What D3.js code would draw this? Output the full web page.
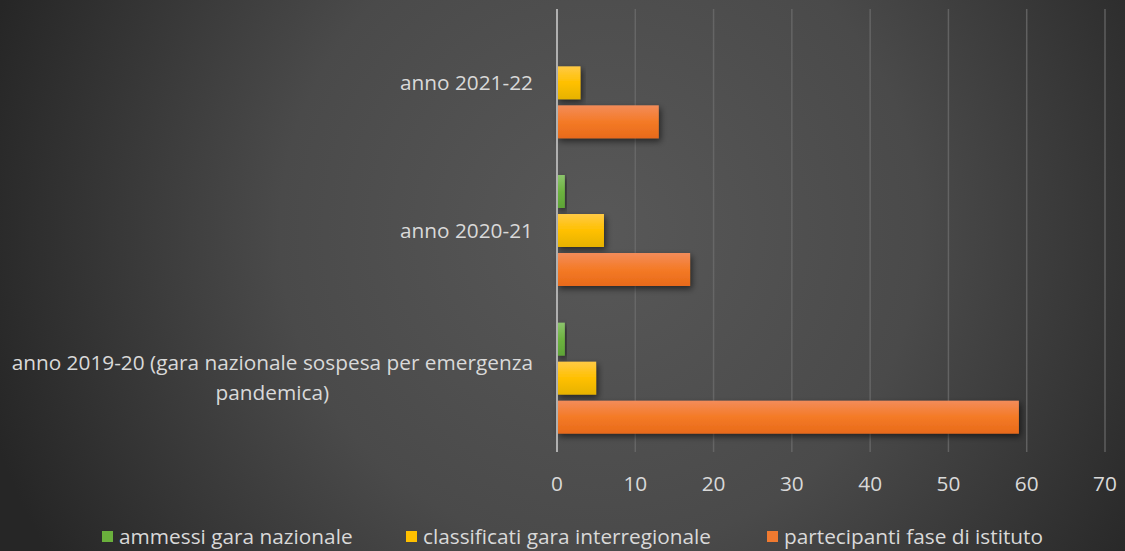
<!DOCTYPE html>
<html>
<head>
<meta charset="utf-8">
<script src="https://cdn.jsdelivr.net/npm/d3@7"></script>
<style>
  html, body { margin: 0; padding: 0; background: #2a2a2a; }
  svg { display: block; }
  text { font-family: "Open Sans", "Noto Sans", sans-serif; fill: #d9d9d9; }
</style>
</head>
<body>
<div id="chart"></div>
<script>
// categories, top to bottom
const categories = [
  "anno 2021-22",
  "anno 2020-21",
  "anno 2019-20 (gara nazionale sospesa per emergenza|pandemica)"
];
const seriesNames = ["ammessi gara nazionale", "classificati gara interregionale", "partecipanti fase di istituto"];
const ammessi = [0, 1, 1];
const classificati = [3, 6, 5];
const partecipanti = [13, 17, 59];
const xTicks = [0, 10, 20, 30, 40, 50, 60, 70];

const seriesValues = [ammessi, classificati, partecipanti];
const seriesGrad = [
  ["#8cc46c", "#6db33f", "#5ea436"],
  ["#ffca45", "#ffc000", "#e6b200"],
  ["#f38c5a", "#f47a26", "#e86a1a"]
];
const legendColor = ["#6ab03c", "#ffc000", "#f07a30"];

const width = 1125, height = 551;
const margin = { top: 9, right: 20, bottom: 99, left: 557 };
const fontSize = "20.8px";

const svg = d3.select("#chart").append("svg")
  .attr("width", width)
  .attr("height", height);

const defs = svg.append("defs");
const bg = defs.append("radialGradient")
  .attr("id", "bg")
  .attr("gradientUnits", "userSpaceOnUse")
  .attr("cx", 600).attr("cy", 230).attr("r", 640);
bg.append("stop").attr("offset", "0%").attr("stop-color", "#585858");
bg.append("stop").attr("offset", "50%").attr("stop-color", "#4a4a4a");
bg.append("stop").attr("offset", "100%").attr("stop-color", "#262626");

seriesGrad.forEach((g, i) => {
  const lg = defs.append("linearGradient")
    .attr("id", "bar" + i)
    .attr("x1", 0).attr("y1", 0).attr("x2", 0).attr("y2", 1);
  lg.append("stop").attr("offset", "0%").attr("stop-color", g[0]);
  lg.append("stop").attr("offset", "50%").attr("stop-color", g[1]);
  lg.append("stop").attr("offset", "100%").attr("stop-color", g[2]);
});

const shadow = defs.append("filter").attr("id", "shadow")
  .attr("x", "-10%").attr("y", "-30%").attr("width", "130%").attr("height", "180%");
shadow.append("feDropShadow")
  .attr("dx", 2).attr("dy", 3).attr("stdDeviation", 3)
  .attr("flood-color", "#000").attr("flood-opacity", 0.55);

svg.append("rect")
  .attr("width", width).attr("height", height)
  .attr("fill", "url(#bg)");

const x = d3.scaleLinear()
  .domain([0, 70])
  .range([margin.left, 1105]);

const y0 = d3.scaleBand()
  .domain(categories)
  .range([margin.top, height - margin.bottom])
  .padding(0);

const y1 = d3.scaleBand()
  .domain(d3.range(seriesNames.length))
  .range([0, y0.bandwidth()])
  .paddingInner(0.154)
  .paddingOuter(0.47);

// gridlines
svg.append("g")
  .selectAll("line")
  .data(xTicks.slice(1))
  .join("line")
  .attr("x1", d => x(d)).attr("x2", d => x(d))
  .attr("y1", margin.top).attr("y2", height - margin.bottom)
  .attr("stroke", "#6e6e6e")
  .attr("stroke-opacity", 0.75)
  .attr("stroke-width", 1.5);

// bars
const groups = svg.append("g")
  .selectAll("g")
  .data(categories)
  .join("g")
  .attr("transform", d => `translate(0,${y0(d)})`);

groups.selectAll("rect")
  .data((d, ci) => seriesValues.map((vals, si) => ({ si, v: vals[ci] })))
  .join("rect")
  .filter(d => d.v > 0)
  .attr("x", x(0))
  .attr("y", d => y1(d.si))
  .attr("width", d => x(d.v) - x(0))
  .attr("height", y1.bandwidth())
  .attr("fill", d => `url(#bar${d.si})`)
  .attr("filter", "url(#shadow)");

// zero axis line
svg.append("line")
  .attr("x1", x(0)).attr("x2", x(0))
  .attr("y1", margin.top).attr("y2", height - margin.bottom)
  .attr("stroke", "#b0b0b0")
  .attr("stroke-width", 2);

// x tick labels
svg.append("g")
  .selectAll("text")
  .data(xTicks)
  .join("text")
  .attr("x", d => x(d))
  .attr("y", 491)
  .attr("text-anchor", "middle")
  .style("font-size", fontSize)
  .text(d => d);

// category labels (multi-line centered, right edge at 533)
const labelRight = 533;
const lineH = 30;
categories.forEach(c => {
  const lines = c.split("|");
  const g = svg.append("g");
  const texts = lines.map((l, i) => g.append("text")
    .style("font-size", fontSize)
    .attr("y", y0(c) + y0.bandwidth() / 2 + (i - (lines.length - 1) / 2) * lineH + 7)
    .text(l));
  const maxW = d3.max(texts, t => t.node().getComputedTextLength());
  texts.forEach(t => t.attr("text-anchor", "middle").attr("x", labelRight - maxW / 2));
});

// legend
const legendX = [102, 406, 767];
const legend = svg.append("g");
seriesNames.forEach((name, i) => {
  legend.append("rect")
    .attr("x", legendX[i]).attr("y", 531)
    .attr("width", 11).attr("height", 11)
    .attr("fill", legendColor[i]);
  legend.append("text")
    .attr("x", legendX[i] + 17).attr("y", 544)
    .style("font-size", fontSize)
    .text(name);
});
</script>
</body>
</html>
